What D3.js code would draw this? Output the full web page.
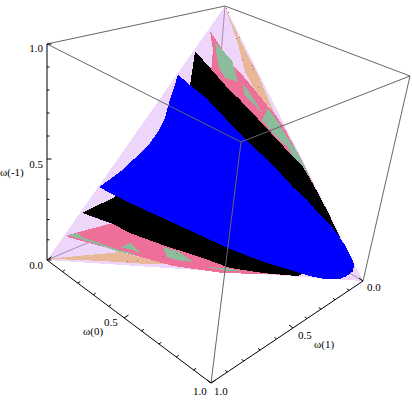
<!DOCTYPE html>
<html>
<head>
<meta charset="utf-8">
<script src="https://cdn.jsdelivr.net/npm/d3@7"></script>
<style>
html, body { margin: 0; padding: 0; background: #fff; }
svg { display: block; }
text { font-family: "Liberation Serif", serif; font-size: 11px; fill: #000; }
</style>
</head>
<body>
<div id="chart"></div>
<script>
// every outline below is [omega(0), omega(1)], omega(-1) is what is left of 1
var simplex = [[0, 0], [1, 0], [0, 1]];

var tanTop = [[0.004, 0.003], [0.1, 0.006], [0.26, 0.006], [0.375, 0.015], [0.269, 0.04], [0.2, 0.043], [0.108, 0.017]];
var tanLow = [[0.002, 0.993], [0.204, 0.748], [0.371, 0.614], [0.295, 0.695], [0.165, 0.825]];

var pinkTop = [[0.008, 0.09], [0.149, 0.071], [0.213, 0.053], [0.337, 0.025], [0.375, 0.015], [0.43, 0.007],
    [0.556, 0.002], [0.689, 0.004], [0.801, 0.003], [0.8, 0.02], [0.6, 0.03], [0.36, 0.08], [0.17, 0.14],
    [0.099, 0.155], [0.057, 0.112]];
var pinkLow = [[0.008, 0.894], [0.123, 0.72], [0.319, 0.59], [0.468, 0.48], [0.57, 0.41], [0.681, 0.31], [0.79, 0.205],
    [0.705, 0.293], [0.56, 0.445], [0.394, 0.597], [0.238, 0.719], [0.015, 0.894]];

var greenPatches = [
    [[0.046, 0.092], [0.084, 0.082], [0.136, 0.066], [0.2, 0.082], [0.153, 0.118], [0.104, 0.12]],
    [[0.215, 0.071], [0.248, 0.063], [0.337, 0.053], [0.287, 0.071], [0.249, 0.081]],
    [[0.354, 0.066], [0.346, 0.027], [0.406, 0.017], [0.465, 0.012], [0.523, 0.004], [0.651, 0.004],
        [0.666, 0.011], [0.538, 0.024], [0.491, 0.027], [0.414, 0.052]],
    [[0.011, 0.89], [0.037, 0.854], [0.057, 0.848], [0.2, 0.745], [0.271, 0.687], [0.204, 0.748]],
    [[0.195, 0.741], [0.215, 0.7], [0.266, 0.684], [0.228, 0.71]],
    [[0.323, 0.599], [0.385, 0.552], [0.446, 0.525], [0.393, 0.575], [0.357, 0.602]],
    [[0.502, 0.485], [0.561, 0.424], [0.613, 0.38], [0.568, 0.428]]
];

var blackBand = [[0.005, 0.172], [0.096, 0.148], [0.178, 0.127], [0.245, 0.105], [0.334, 0.079], [0.493, 0.034],
    [0.577, 0.009], [0.684, 0.002], [0.77, 0.002], [0.837, 0.003], [0.856, 0.074], [0.791, 0.207], [0.681, 0.314],
    [0.57, 0.414], [0.468, 0.486], [0.319, 0.596], [0.194, 0.684], [0.123, 0.725], [0.006, 0.808], [0.072, 0.674],
    [0.1, 0.499], [0.062, 0.244]];

var blueRegion = [[0.004, 0.267], [0.021, 0.308], [0.036, 0.343], [0.056, 0.38], [0.064, 0.426], [0.063, 0.487],
    [0.048, 0.554], [0.034, 0.617], [0.003, 0.71], [0.122, 0.64], [0.19, 0.597], [0.522, 0.388], [0.645, 0.304],
    [0.793, 0.193], [0.84, 0.157], [0.881, 0.121], [0.926, 0.072], [0.941, 0.044], [0.947, 0.015], [0.939, 0.003],
    [0.925, 0], [0.869, 0], [0.797, 0.011], [0.73, 0.032], [0.659, 0.05], [0.589, 0.075], [0.52, 0.094],
    [0.417, 0.127], [0.32, 0.16], [0.137, 0.213], [0.062, 0.244]];

var strayDots = [[0.272, 0.705], [0.244, 0.74], [0.342, 0.614], [0.375, 0.566], [0.385, 0.552], [0.007, 0],
    [0.022, 0.001], [0.101, 0.017], [0.109, 0.006], [0.164, 0.031], [0.218, 0.012], [0.207, 0.009], [0.271, 0.025]];
var blueSmudges = [[0.032, 0.643], [0.937, 0.025]];

var axisTicks = d3.range(0, 11).map(function (i) { return i / 10; });
var axisLabels = ["0.0", "0.5", "1.0"];
var axisKnots = [0, 0.5, 1];

var width = 412;
var height = 404;

var svg = d3.select("#chart")
        .append("svg")
        .attr("width", width)
        .attr("height", height);

var apex = [225, 6];

// the tilted plane of the simplex, each weight pulls along one edge
var rightEdge = d3.scaleLinear().domain([0, 1]).range([[0, 0], [138, 275]]);
var leftEdge = d3.scaleLinear().domain([0, 1]).range([[0, 0], [-178, 254]]);

function place(d)
{
    var a = rightEdge(d[0]);
    var b = leftEdge(d[1]);
    return [apex[0] + a[0] + b[0], apex[1] + a[1] + b[1]];
}

var outline = d3.line()
        .x(function (d) { return place(d)[0]; })
        .y(function (d) { return place(d)[1]; })
        .curve(d3.curveLinearClosed);

function region(points, color)
{
    svg.append("path")
            .attr("d", outline(points))
            .attr("fill", color)
            .attr("shape-rendering", "crispEdges");
}

function specks(points, color, w, h)
{
    svg.append("g")
            .selectAll("rect")
            .data(points)
            .enter()
            .append("rect")
            .attr("x", function (d) { return Math.round(place(d)[0]); })
            .attr("y", function (d) { return Math.round(place(d)[1]); })
            .attr("width", w)
            .attr("height", h)
            .attr("fill", color);
}

// the three visible axes, knots at 0, 0.5 and 1 because of the perspective
var axisUp = d3.scaleLinear().domain(axisKnots).range([[47, 260], [47, 159], [47, 44]]);
var axisZero = d3.scaleLinear().domain(axisKnots).range([[47, 260], [124, 318], [211, 383]]);
var axisOne = d3.scaleLinear().domain(axisKnots).range([[363, 281], [293, 328], [211, 383]]);

var cornerTopBack = apex;
var cornerTopLeft = axisUp(1);
var cornerTopRight = [410, 76];
var cornerTopFront = [241, 142];
var cornerBack = [210, 191];

function edge(from, to, color, w)
{
    svg.append("line")
            .attr("x1", from[0]).attr("y1", from[1])
            .attr("x2", to[0]).attr("y2", to[1])
            .attr("stroke", color)
            .attr("stroke-width", w);
}

region(simplex, "#eed6fb");

// edges that sit behind the surface show through the lavender
edge(cornerTopBack, cornerBack, "#a78fb4", 1);
edge(axisUp(0), cornerBack, "#a78fb4", 1);
edge(axisOne(0), cornerBack, "#a78fb4", 1);

region(tanTop, "#e8b898");
region(tanLow, "#e8b898");
region(pinkTop, "#ee7099");
region(pinkLow, "#ee7099");
greenPatches.forEach(function (p) {
    region(p, "#8cbc9c");
});

specks(strayDots, "#a8685c", 1, 1);

region(blackBand, "#000");
region(blueRegion, "#0000ff");
specks(blueSmudges, "#0000b4", 3, 2);

// box frame
var frameColor = "#666";
edge(cornerTopLeft, cornerTopBack, frameColor, 1);
edge(cornerTopBack, cornerTopRight, frameColor, 1);
edge(cornerTopRight, cornerTopFront, frameColor, 1);
edge(cornerTopFront, cornerTopLeft, frameColor, 1);
edge(cornerTopFront, axisZero(1), frameColor, 1);
edge(cornerTopRight, axisOne(0), frameColor, 1);

edge(axisUp(0), axisUp(1), "#000", 1);
edge(axisZero(0), axisZero(1), "#000", 1);
edge(axisOne(0), axisOne(1), "#000", 1);

function ticks(scale, dx, dy)
{
    axisTicks.forEach(function (t) {
        var p = scale(t);
        var k = (t * 10) % 5 === 0 ? 1 : 0.55;
        edge(p, [p[0] + dx * k, p[1] + dy * k], "#000", 1);
    });
}
ticks(axisUp, 4.5, 0);
ticks(axisZero, 4.5, -3);
ticks(axisOne, -4, -3);

function label(txt, x, y, anchor)
{
    svg.append("text")
            .attr("x", x)
            .attr("y", y)
            .attr("text-anchor", anchor || "start")
            .text(txt);
}

var upLabelY = [269, 168, 52];
var zeroLabelPos = [[104, 326], [193, 395]];
var oneLabelPos = [[367, 291], [298, 339], [214, 395]];

axisLabels.forEach(function (s, i) {
    label(s, 43, upLabelY[i], "end");
    label(s, oneLabelPos[i][0], oneLabelPos[i][1]);
});
label(axisLabels[1], zeroLabelPos[0][0], zeroLabelPos[0][1]);
label(axisLabels[2], zeroLabelPos[1][0], zeroLabelPos[1][1]);

label("\u03c9(-1)", 0, 176);
label("\u03c9(0)", 83, 335);
label("\u03c9(1)", 314, 348);
</script>
</body>
</html>
